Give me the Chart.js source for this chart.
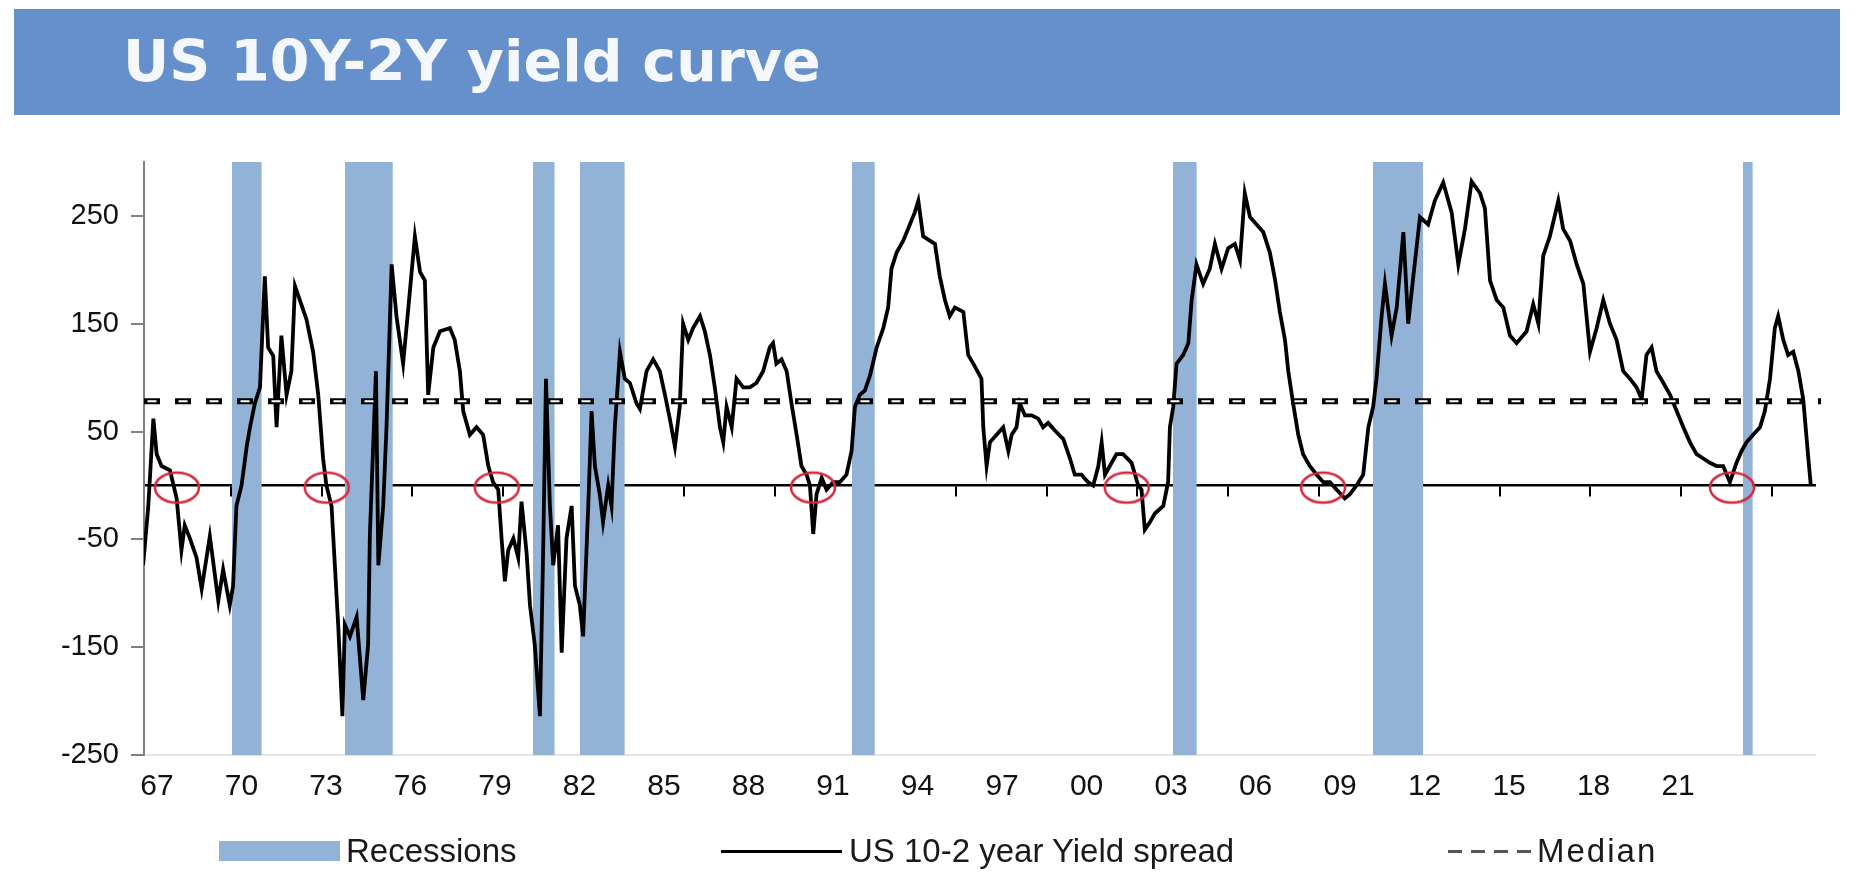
<!DOCTYPE html>
<html>
<head>
<meta charset="utf-8">
<title>US 10Y-2Y yield curve</title>
<script src="https://cdn.jsdelivr.net/npm/chart.js@4.4.1/dist/chart.umd.min.js"></script>
<style>
    body { margin: 0; background: #fff; }
    #wrap { position: relative; width: 1854px; height: 875px; overflow: hidden; }
    #chart { position: absolute; left: 0; top: 0; }
    #title {
        position: absolute; left: 14px; top: 9px; width: 1826px; height: 106px;
        background: #6690cc; color: #f4f7fc;
        font-family: "DejaVu Sans", sans-serif; font-weight: bold; font-size: 57px;
        line-height: 104px; padding-left: 109px; box-sizing: border-box;
    }
    .lg { position: absolute; font-family: "Liberation Sans", Arial, sans-serif; font-size: 33px; color: #1a1a1a; line-height: 36px; top: 833px; }
    .sw { position: absolute; }
</style>
</head>
<body>
<div id="wrap">
    <canvas id="chart" width="1854" height="875"></canvas>
    <div id="title">US 10Y-2Y yield curve</div>
    <div class="sw" style="left:219px; top:841px; width:121px; height:20px; background:#93b3d6;"></div>
    <div class="lg" id="lg0" style="left:346px;"></div>
    <div class="sw" style="left:721px; top:850px; width:121px; height:3px; background:#000;"></div>
    <div class="lg" id="lg1" style="left:849px;"></div>
    <div class="sw" style="left:1448px; top:850px; width:83px; height:3px; background:repeating-linear-gradient(to right, #555 0 14px, transparent 14px 23px);"></div>
    <div class="lg" id="lg2" style="left:1537px; letter-spacing:2px;"></div>
</div>
<script>
// US 10-2 year yield spread, bp
const spreadDates = [
    1967.08, 1967.25, 1967.42, 1967.53, 1967.69, 1967.97, 1968.19, 1968.35, 1968.46, 1968.63,
    1968.85, 1969.02, 1969.29, 1969.57, 1969.73, 1969.95, 1970.06, 1970.17, 1970.34, 1970.51,
    1970.62, 1970.78, 1970.95, 1971.11, 1971.22, 1971.39, 1971.50, 1971.66, 1971.83, 1971.99,
    1972.11, 1972.27, 1972.49, 1972.71, 1972.88, 1973.04, 1973.15, 1973.32, 1973.43, 1973.54,
    1973.68, 1973.76, 1973.93, 1974.15, 1974.37, 1974.53, 1974.59, 1974.79, 1974.87, 1975.03,
    1975.14, 1975.31, 1975.47, 1975.69, 1975.91, 1976.08, 1976.25, 1976.41, 1976.52, 1976.69,
    1976.91, 1977.24, 1977.40, 1977.57, 1977.68, 1977.90, 1978.12, 1978.34, 1978.51, 1978.67,
    1978.84, 1978.95, 1979.06, 1979.17, 1979.34, 1979.50, 1979.61, 1979.78, 1979.89, 1980.05,
    1980.22, 1980.33, 1980.42, 1980.55, 1980.66, 1980.82, 1980.94, 1981.10, 1981.27, 1981.38,
    1981.54, 1981.65, 1981.82, 1981.93, 1982.04, 1982.20, 1982.31, 1982.48, 1982.59, 1982.70,
    1982.87, 1983.03, 1983.20, 1983.42, 1983.53, 1983.75, 1983.97, 1984.19, 1984.36, 1984.52,
    1984.69, 1984.85, 1984.96, 1985.13, 1985.29, 1985.52, 1985.68, 1985.85, 1986.01, 1986.18,
    1986.29, 1986.40, 1986.57, 1986.73, 1986.95, 1987.17, 1987.39, 1987.61, 1987.83, 1987.94,
    1988.05, 1988.22, 1988.39, 1988.55, 1988.72, 1988.88, 1989.05, 1989.16, 1989.27, 1989.38,
    1989.55, 1989.71, 1989.93, 1990.15, 1990.37, 1990.54, 1990.65, 1990.81, 1990.98, 1991.15,
    1991.37, 1991.59, 1991.75, 1991.86, 1992.03, 1992.25, 1992.47, 1992.63, 1992.75, 1992.91,
    1993.13, 1993.30, 1993.46, 1993.63, 1993.79, 1993.96, 1994.24, 1994.40, 1994.57, 1994.84,
    1994.90, 1995.01, 1995.12, 1995.34, 1995.56, 1995.73, 1995.84, 1996.00, 1996.11, 1996.28,
    1996.50, 1996.72, 1996.88, 1997.05, 1997.27, 1997.55, 1997.77, 1997.93, 1998.15, 1998.37,
    1998.54, 1998.71, 1998.82, 1998.93, 1999.09, 1999.31, 1999.53, 1999.81, 2000.03, 2000.14,
    2000.25, 2000.42, 2000.58, 2000.86, 2001.02, 2001.08, 2001.19, 2001.30, 2001.52, 2001.69,
    2001.80, 2001.96, 2002.18, 2002.40, 2002.57, 2002.79, 2003.01, 2003.23, 2003.40, 2003.56,
    2003.73, 2003.95, 2004.17, 2004.39, 2004.56, 2004.72, 2004.89, 2005.00, 2005.16, 2005.33,
    2005.49, 2005.71, 2005.94, 2006.16, 2006.38, 2006.60, 2006.87, 2007.04, 2007.26, 2007.48,
    2007.65, 2007.81, 2007.92, 2008.09, 2008.20, 2008.42, 2008.59, 2008.81, 2008.97, 2009.14,
    2009.36, 2009.63, 2009.85, 2010.13, 2010.41, 2010.63, 2010.85, 2011.07, 2011.35, 2011.51,
    2011.68, 2011.90, 2012.12, 2012.34, 2012.56, 2012.89, 2013.11, 2013.28, 2013.44, 2013.66,
    2013.94, 2014.10, 2014.33, 2014.55, 2014.77, 2014.99, 2015.21, 2015.43, 2015.65, 2015.87,
    2016.09, 2016.31, 2016.53, 2016.70, 2016.86, 2017.03, 2017.19, 2017.42, 2017.64, 2017.86,
    2018.08, 2018.30, 2018.52, 2018.74, 2018.96, 2019.18, 2019.40, 2019.62, 2019.84, 2020.01,
    2020.17, 2020.39, 2020.62, 2020.78, 2020.95, 2021.11, 2021.22, 2021.39, 2021.55, 2021.72,
    2021.89, 2022.05, 2022.22, 2022.30
];
const spreadValues = [
    -74, -20, 62, 29, 18, 14, -12, -60, -37, -49,
    -67, -96, -47, -107, -78, -111, -93, -19, 0, 36,
    54, 76, 91, 194, 128, 120, 54, 139, 84, 106,
    185, 172, 154, 124, 84, 25, 0, -19, -74, -129,
    -214, -129, -140, -122, -199, -148, -45, 106, -74, -19,
    54, 205, 157, 113, 179, 231, 198, 190, 84, 128,
    143, 146, 135, 106, 69, 47, 54, 47, 18, 3,
    -4, -49, -89, -60, -49, -67, -15, -63, -111, -148,
    -214, -56, 99, -19, -74, -37, -155, -49, -19, -93,
    -111, -140, -19, 69, 18, -8, -34, 0, -19, 54,
    124, 99, 95, 76, 71, 106, 117, 106, 84, 62,
    36, 73, 150, 135, 146, 157, 143, 121, 91, 54,
    40, 73, 54, 99, 91, 91, 95, 106, 128, 132,
    113, 117, 106, 76, 47, 18, 10, 0, -45, -8,
    7, -4, 3, 3, 10, 32, 73, 84, 88, 102,
    128, 146, 165, 201, 216, 227, 242, 253, 264, 231,
    227, 224, 194, 172, 157, 165, 161, 121, 113, 99,
    54, 18, 40, 47, 54, 32, 47, 54, 76, 65,
    65, 62, 54, 58, 51, 43, 25, 10, 10, 3,
    0, 18, 40, 10, 18, 29, 29, 21, 0, -4,
    -41, -34, -26, -19, 3, 54, 73, 113, 121, 132,
    172, 205, 187, 201, 224, 201, 220, 224, 209, 271,
    249, 242, 235, 216, 191, 161, 135, 106, 76, 47,
    29, 18, 10, 3, 3, -4, -12, -8, 0, 10,
    54, 73, 99, 157, 187, 139, 165, 235, 150, 194,
    249, 242, 264, 281, 253, 205, 238, 282, 271, 257,
    190, 172, 165, 139, 132, 143, 168, 150, 213, 231,
    264, 238, 227, 205, 187, 124, 146, 172, 150, 135,
    106, 99, 91, 80, 121, 128, 106, 95, 84, 69,
    54, 40, 29, 25, 21, 18, 18, 3, 21, 32,
    40, 47, 54, 69, 99, 146, 157, 135, 121, 124,
    106, 80, 25, 0
];

// NBER recessions as drawn (decimal years)
const recessionStart = [1970.02, 1973.76, 1979.99, 1981.54, 1990.55, 2001.18, 2007.80, 2020.05];
const recessionEnd   = [1971.01, 1975.35, 1980.71, 1983.03, 1991.31, 2001.97, 2009.46, 2020.38];

// red circles where the curve inverted
const inversionDates = [1968.20, 1973.16, 1978.79, 1989.26, 1999.65, 2006.15, 2019.69];

const medianValue = 78;

const xLabels = ['67', '70', '73', '76', '79', '82', '85', '88', '91', '94', '97', '00', '03', '06', '09', '12', '15', '18', '21'];
const xTickYears = [1970, 1973, 1976, 1979, 1982, 1985, 1988, 1991, 1994, 1997, 2000, 2003, 2006, 2009, 2012, 2015, 2018, 2021];
const yTicks = [-250, -150, -50, 50, 150, 250];

const xMin = 1967.11, xMax = 2022.44;
const yMin = -250, yMax = 300;
const recessionColor = '#93b3d6';

function ellipseMarker() {
    var c = document.createElement('canvas');
    c.width = 50;
    c.height = 36;
    var g = c.getContext('2d');
    g.strokeStyle = '#d2283e';
    g.lineWidth = 2.5;
    g.beginPath();
    g.ellipse(25, 18, 22, 15, 0, 0, Math.PI * 2);
    g.stroke();
    return c;
}

var datasets = [];

datasets.push({
    label: 'inversions',
    data: inversionDates.map(function (d) { return { x: d, y: -2 }; }),
    showLine: false,
    pointStyle: ellipseMarker(),
    pointRadius: 18,
    order: 0
});

// median: thick black dash with a white core, gives the hollow look
datasets.push({
    label: 'median-core',
    data: [{ x: xMin, y: medianValue }, { x: xMax + 0.2, y: medianValue }],
    borderColor: '#ffffff',
    borderWidth: 2,
    borderDash: [9, 22],
    borderDashOffset: -3.5,
    pointRadius: 0,
    clip: false,
    order: 1
});
datasets.push({
    label: 'Median',
    data: [{ x: xMin, y: medianValue }, { x: xMax + 0.2, y: medianValue }],
    borderColor: '#000000',
    borderWidth: 6,
    borderDash: [16, 15],
    pointRadius: 0,
    clip: false,
    order: 2
});

datasets.push({
    label: 'US 10-2 year Yield spread',
    data: spreadDates.map(function (d, i) { return { x: d, y: spreadValues[i] }; }),
    borderColor: '#000000',
    borderWidth: 3.8,
    borderJoinStyle: 'miter',
    pointRadius: 0,
    tension: 0,
    order: 3
});

for (var i = 0; i < recessionStart.length; i++) {
    datasets.push({
        label: i === 0 ? 'Recessions' : 'recession' + i,
        data: [{ x: recessionStart[i], y: yMax }, { x: recessionEnd[i], y: yMax }],
        borderColor: 'transparent',
        borderWidth: 0,
        backgroundColor: recessionColor,
        fill: 'start',
        pointRadius: 0,
        order: 10 + i
    });
}

document.getElementById('lg0').textContent = 'Recessions';
document.getElementById('lg1').textContent = 'US 10-2 year Yield spread';
document.getElementById('lg2').textContent = 'Median';

var ctx = document.getElementById('chart').getContext('2d');
var chart = new Chart(ctx, {
    type: 'line',
    data: { datasets: datasets },
    options: {
        responsive: false,
        animation: false,
        devicePixelRatio: 1,
        layout: { padding: { top: 162, left: 0, right: 39, bottom: 0 } },
        plugins: {
            legend: { display: false },
            tooltip: { enabled: false },
            title: { display: false }
        },
        scales: {
            // zero line with the 3-year tick marks
            x: {
                type: 'linear',
                axis: 'x',
                position: { y: 0 },
                min: xMin,
                max: xMax,
                afterBuildTicks: function (s) { s.ticks = xTickYears.map(function (v) { return { value: v }; }); },
                ticks: { display: false },
                grid: { drawOnChartArea: false, drawTicks: true, tickLength: 10, color: '#000', lineWidth: 2 },
                border: { display: true, color: '#000', width: 2.5 }
            },
            // category labels along the bottom
            xl: {
                type: 'linear',
                axis: 'x',
                position: 'bottom',
                min: -0.154,
                max: 19.62,
                afterBuildTicks: function (s) { s.ticks = xLabels.map(function (l, i) { return { value: i }; }); },
                afterFit: function (s) { s.height = 120; },
                ticks: {
                    autoSkip: false,
                    maxRotation: 0,
                    padding: 14,
                    color: '#111',
                    font: { family: 'Liberation Sans, Arial, sans-serif', size: 30 },
                    callback: function (v) { return xLabels[v]; }
                },
                grid: { display: false, drawTicks: false },
                border: { display: true, color: '#e4e4e4', width: 2 }
            },
            y: {
                type: 'linear',
                position: 'left',
                min: yMin,
                max: yMax,
                afterBuildTicks: function (s) { s.ticks = yTicks.map(function (v) { return { value: v }; }); },
                afterFit: function (s) { s.width = 144; },
                ticks: {
                    padding: 12,
                    color: '#111',
                    font: { family: 'Liberation Sans, Arial, sans-serif', size: 29 }
                },
                grid: { drawOnChartArea: false, drawTicks: true, tickLength: 13, color: '#808080', lineWidth: 2 },
                border: { display: true, color: '#808080', width: 2 }
            }
        }
    }
});
</script>
</body>
</html>
